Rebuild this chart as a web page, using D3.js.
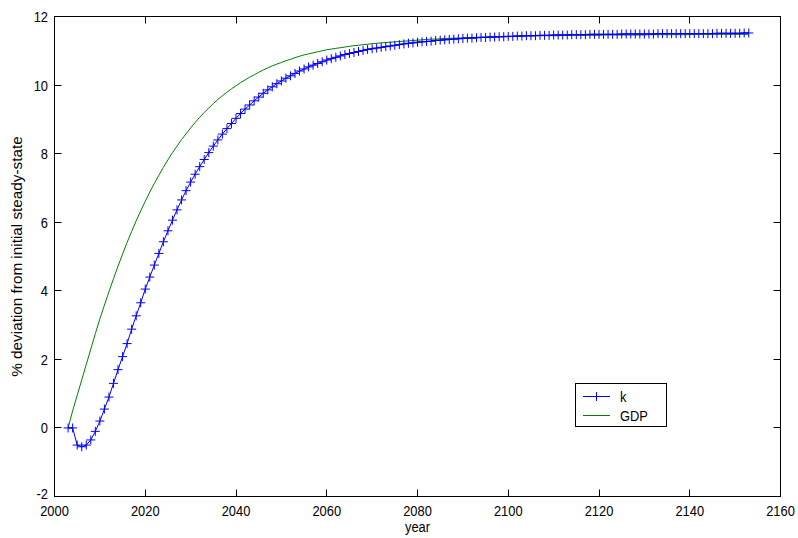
<!DOCTYPE html>
<html><head><meta charset="utf-8">
<script src="https://cdn.jsdelivr.net/npm/d3@7/dist/d3.min.js"></script>
<style>
body{margin:0;background:#fff;}
text{font-family:"Liberation Sans",Arial,sans-serif;}
</style></head>
<body><svg id="c" width="798" height="538"></svg>
<script>
const startYear = 2003;
const kValues = [0,0,-0.5,-0.55,-0.5,-0.35,-0.1,0.2,0.55,0.9,
1.3,1.7,2.08,2.46,2.88,3.27,3.65,4.05,4.4,4.75,
5.09,5.43,5.75,6.06,6.36,6.65,6.92,7.17,7.4,7.62,
7.83,8.03,8.22,8.4,8.57,8.73,8.88,9.03,9.17,9.3,
9.42,9.54,9.65,9.76,9.86,9.95,10.04,10.12,10.2,10.27,
10.34,10.41,10.47,10.53,10.58,10.63,10.68,10.73,10.77,10.81,
10.85,10.89,10.92,10.95,10.98,11.01,11.04,11.06,11.08,11.1,
11.12,11.14,11.16,11.18,11.2,11.22,11.23,11.25,11.26,11.27,
11.28,11.3,11.31,11.32,11.33,11.34,11.35,11.36,11.37,11.37,
11.38,11.39,11.39,11.4,11.4,11.41,11.41,11.42,11.42,11.43,
11.43,11.44,11.44,11.44,11.45,11.45,11.45,11.46,11.46,11.46,
11.46,11.47,11.47,11.47,11.47,11.48,11.48,11.48,11.48,11.48,
11.48,11.48,11.49,11.49,11.49,11.49,11.49,11.49,11.49,11.49,
11.5,11.5,11.5,11.5,11.5,11.5,11.5,11.5,11.5,11.5,
11.5,11.5,11.5,11.51,11.51,11.51,11.51,11.51,11.51,11.52,11.52];
const gdpValues = [0,0.5,0.95,1.4,1.85,2.3,2.75,3.18,3.58,3.97,
4.35,4.72,5.07,5.41,5.73,6.04,6.33,6.61,6.88,7.13,
7.37,7.6,7.82,8.03,8.22,8.41,8.58,8.75,8.91,9.06,
9.2,9.33,9.46,9.58,9.69,9.79,9.89,9.98,10.07,10.15,
10.23,10.3,10.37,10.44,10.5,10.56,10.61,10.66,10.71,10.75,
10.8,10.84,10.88,10.91,10.94,10.97,11.0,11.03,11.05,11.07,
11.09,11.11,11.13,11.15,11.16,11.18,11.19,11.21,11.22,11.23,
11.24,11.25,11.26,11.27,11.28,11.29,11.3,11.31,11.32,11.33,
11.34,11.34,11.35,11.36,11.36,11.37,11.37,11.38,11.38,11.39,
11.39,11.4,11.4,11.41,11.41,11.41,11.42,11.42,11.42,11.43,
11.43,11.43,11.43,11.44,11.44,11.44,11.44,11.44,11.44,11.45,
11.45,11.45,11.45,11.45,11.45,11.45,11.45,11.45,11.46,11.46,
11.46,11.46,11.46,11.46,11.46,11.46,11.46,11.46,11.47,11.47,
11.47,11.47,11.47,11.47,11.47,11.47,11.47,11.47,11.48,11.48,
11.48,11.48,11.48,11.48,11.48,11.48,11.48,11.48,11.48,11.48,11.48];
const xTicks = [2000,2020,2040,2060,2080,2100,2120,2140,2160];
const yTicks = [-2,0,2,4,6,8,10,12];
const seriesNames = ["k","GDP"];
const xLabel = "year";
const yLabel = "% deviation from initial steady-state";

const kData = kValues.map((v,i)=>({x:startYear+i,y:v}));
const gdpData = gdpValues.map((v,i)=>({x:startYear+i,y:v}));

const svg = d3.select("#c");
const L=54.5, R=780.5, T=16.5, B=496.5;
const x = d3.scaleLinear().domain([2000,2160]).range([L,R]);
const y = d3.scaleLinear().domain([-2,12]).range([B,T]);
const FS = 15, SX = 0.86;

svg.append("rect").attr("x",L).attr("y",T).attr("width",R-L).attr("height",B-T)
  .attr("fill","#fff").attr("stroke","#000").attr("stroke-width",1);

const tl = 7;
const g = svg.append("g").attr("stroke","#000").attr("stroke-width",1);
xTicks.forEach(t=>{
  const px = Math.round(x(t)-0.5)+0.5;
  g.append("line").attr("x1",px).attr("x2",px).attr("y1",B).attr("y2",B-tl);
  g.append("line").attr("x1",px).attr("x2",px).attr("y1",T).attr("y2",T+tl);
});
yTicks.forEach(t=>{
  const py = Math.round(y(t)-0.5)+0.5;
  g.append("line").attr("y1",py).attr("y2",py).attr("x1",L).attr("x2",L+tl);
  g.append("line").attr("y1",py).attr("y2",py).attr("x1",R).attr("x2",R-tl);
});

function label(px,py,str,anchor,rot,sx){
  const s = sx===undefined?SX:sx;
  return svg.append("text").attr("font-size",FS).attr("fill","#000")
    .attr("text-anchor",anchor)
    .attr("transform",`translate(${px},${py})${rot?` rotate(${rot})`:""} scale(${s},1)`)
    .text(str);
}
xTicks.forEach(t=>label(x(t),516,t,"middle"));
yTicks.forEach(t=>label(48,y(t)+(t===-2?2.5:5.5),t,"end"));
label((L+R)/2,532,xLabel,"middle");
label(22,(T+B)/2,yLabel,"middle",-90,1.02);

const line = d3.line().x(d=>x(d.x)).y(d=>y(d.y));
svg.append("path").datum(gdpData).attr("d",line).attr("fill","none")
  .attr("stroke","#008000").attr("stroke-width",1);
svg.append("path").datum(kData).attr("d",line).attr("fill","none")
  .attr("stroke","#0000ff").attr("stroke-width",1);
const m=4.5;
const mk = svg.append("g").attr("stroke","#0000ff").attr("stroke-width",1);
kData.forEach(d=>{
  const px=x(d.x), py=y(d.y);
  mk.append("line").attr("x1",px-m).attr("x2",px+m).attr("y1",py).attr("y2",py);
  mk.append("line").attr("x1",px).attr("x2",px).attr("y1",py-m).attr("y2",py+m);
});

// legend
const lg = svg.append("g");
lg.append("rect").attr("x",575.5).attr("y",383.5).attr("width",91).attr("height",43)
  .attr("fill","#fff").attr("stroke","#000");
const ly=[396.5,415.5], cols=["#0000ff","#008000"];
seriesNames.forEach((n,i)=>{
  lg.append("line").attr("x1",583).attr("x2",610).attr("y1",ly[i]).attr("y2",ly[i]).attr("stroke",cols[i]);
  label(620,ly[i]+5.5,n,"start");
});
lg.append("line").attr("x1",596.5).attr("x2",596.5).attr("y1",ly[0]-m).attr("y2",ly[0]+m).attr("stroke","#0000ff");
lg.append("line").attr("x1",596.5-m).attr("x2",596.5+m).attr("y1",ly[0]).attr("y2",ly[0]).attr("stroke","#0000ff");
</script></body></html>
